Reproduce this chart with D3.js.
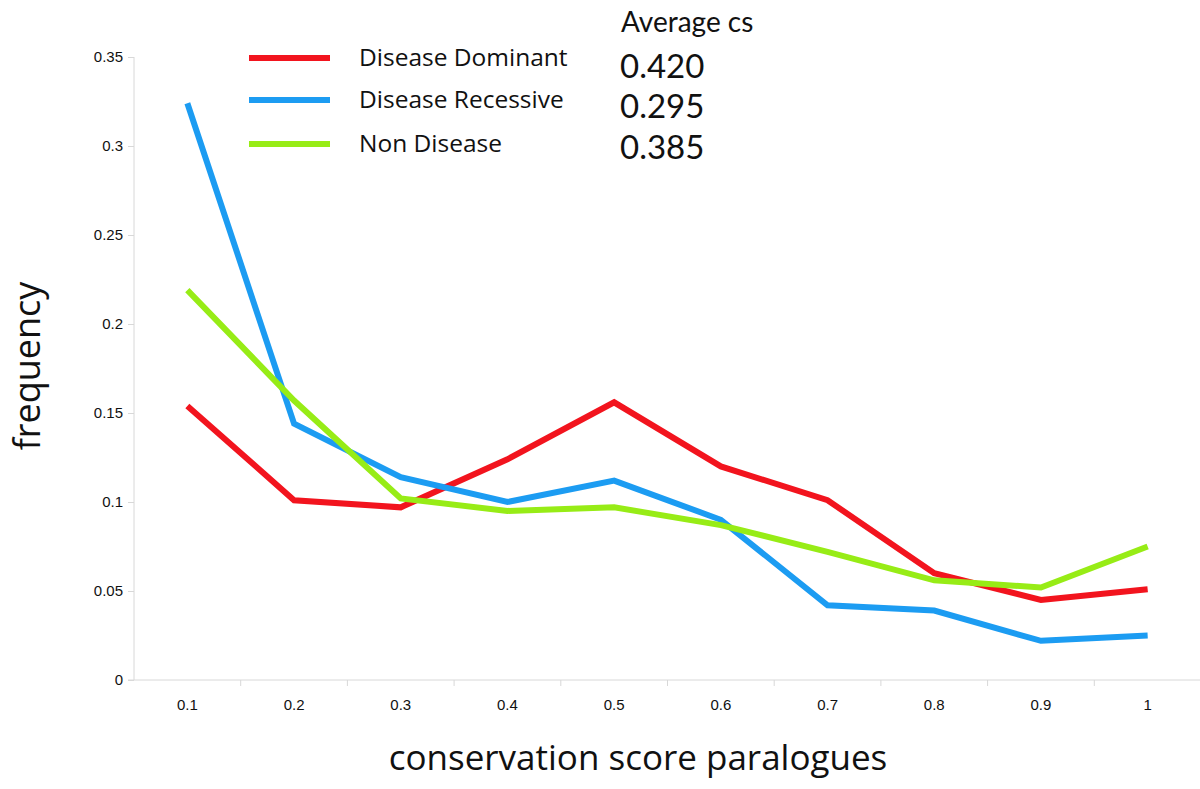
<!DOCTYPE html>
<html>
<head>
<meta charset="utf-8">
<script src="https://cdn.jsdelivr.net/npm/d3@7"></script>
<style>
  body { margin: 0; background: #fff; }
  svg { display: block; }
</style>
</head>
<body>
<div id="chart"></div>
<script>
// data
var categories = ["0.1", "0.2", "0.3", "0.4", "0.5", "0.6", "0.7", "0.8", "0.9", "1"];
var dominant  = [0.154, 0.101, 0.097, 0.124, 0.156, 0.120, 0.101, 0.060, 0.045, 0.051];
var recessive = [0.324, 0.144, 0.114, 0.100, 0.112, 0.090, 0.042, 0.039, 0.022, 0.025];
var nonDisease = [0.219, 0.157, 0.102, 0.095, 0.097, 0.087, 0.072, 0.056, 0.052, 0.075];
var seriesNames = ["Disease Dominant", "Disease Recessive", "Non Disease"];
var averages = ["0.420", "0.295", "0.385"];
var yTicks = [0, 0.05, 0.1, 0.15, 0.2, 0.25, 0.3, 0.35];

var width = 1200, height = 789;
var colors = ["#f2141e", "#1c9cf2", "#97ec16"];
var font = "'Open Sans', 'Noto Sans', sans-serif";
var numFont = "Lato, 'Open Sans', sans-serif";

var svg = d3.select("#chart").append("svg")
    .attr("width", width)
    .attr("height", height);

var x = d3.scaleBand().domain(categories).range([134, 1201]);
var y = d3.scaleLinear().domain([0, 0.35]).range([680, 57]);

/*
 * axes
 */
var yAxis = svg.append("g")
    .attr("transform", "translate(134,0)")
    .call(d3.axisLeft(y).tickValues(yTicks).tickSize(6).tickPadding(5)
        .tickFormat(function (d) { return d === 0 ? "0" : String(+d.toFixed(2)); }));
yAxis.select(".domain").attr("stroke", "#d8d8d8").attr("d", "M0," + y(0.35) + "V" + y(0));

var xAxis = svg.append("g")
    .attr("transform", "translate(0," + y(0) + ")")
    .call(d3.axisBottom(x).tickSize(0).tickPadding(19));
xAxis.select(".domain").attr("stroke", "#d8d8d8").attr("d", "M" + (134 - 6) + ",0H1201");

// tick marks sit between the categories
xAxis.selectAll(".sep")
    .data(categories)
    .enter().append("line")
    .attr("class", "sep")
    .attr("x1", function (d) { return x(d) + x.bandwidth(); })
    .attr("x2", function (d) { return x(d) + x.bandwidth(); })
    .attr("y1", 0)
    .attr("y2", 6)
    .attr("stroke", "#d8d8d8");

svg.selectAll(".tick line").attr("stroke", "#d8d8d8");
svg.selectAll(".tick text")
    .attr("fill", "#111")
    .style("font-family", "'Liberation Sans', Arial, sans-serif")
    .style("font-size", "15px");

/*
 * lines
 */
var allSeries = [dominant, recessive, nonDisease];
var line = d3.line()
    .x(function (d, i) { return x(categories[i]) + x.bandwidth() / 2; })
    .y(function (d) { return y(d); });

// draw order as in the picture: red below, blue, green on top
svg.append("g")
    .selectAll("path.series")
    .data(allSeries)
    .enter().append("path")
    .attr("class", "series")
    .attr("d", function (d) { return line(d); })
    .attr("fill", "none")
    .attr("stroke", function (d, i) { return colors[i]; })
    .attr("stroke-width", 6)
    .attr("stroke-linejoin", "miter");

/*
 * legend
 */
var legend = svg.append("g");
var legendY = [58, 100, 144];
legend.selectAll("line")
    .data(seriesNames)
    .enter().append("line")
    .attr("x1", 249).attr("x2", 330)
    .attr("y1", function (d, i) { return legendY[i]; })
    .attr("y2", function (d, i) { return legendY[i]; })
    .attr("stroke", function (d, i) { return colors[i]; })
    .attr("stroke-width", 6);

legend.selectAll("text.name")
    .data(seriesNames)
    .enter().append("text")
    .attr("class", "name")
    .attr("x", 359)
    .attr("y", function (d, i) { return legendY[i] + 8; })
    .text(function (d) { return d; })
    .style("font-family", font)
    .style("font-size", "24.5px")
    .attr("fill", "#111");

legend.append("text")
    .attr("x", 621).attr("y", 32)
    .text("Average cs")
    .style("font-family", numFont)
    .style("font-size", "28px")
    .attr("fill", "#111");

legend.selectAll("text.avg")
    .data(averages)
    .enter().append("text")
    .attr("class", "avg")
    .attr("x", 620)
    .attr("y", function (d, i) { return [78, 118, 159][i]; })
    .text(function (d) { return d; })
    .style("font-family", numFont)
    .style("font-size", "33px")
    .attr("fill", "#111");

/*
 * axis titles
 */
svg.append("text")
    .attr("transform", "translate(40,366) rotate(-90)")
    .attr("text-anchor", "middle")
    .text("frequency")
    .style("font-family", font)
    .style("font-size", "36px")
    .attr("fill", "#111");

svg.append("text")
    .attr("x", 638).attr("y", 770)
    .attr("text-anchor", "middle")
    .text("conservation score paralogues")
    .style("font-family", font)
    .style("font-size", "35px")
    .attr("fill", "#111");
</script>
</body>
</html>
